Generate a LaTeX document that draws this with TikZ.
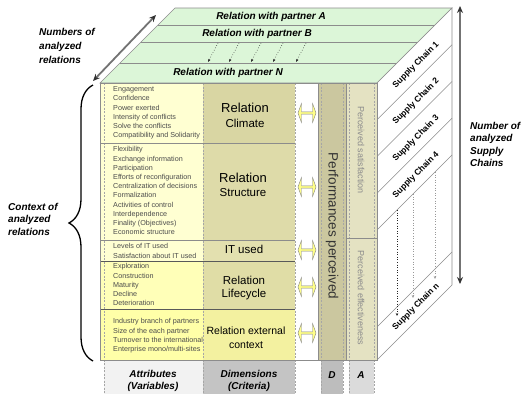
\documentclass[tikz,border=0pt]{standalone}
\usepackage{fontspec}
\setmainfont{Liberation Sans}
\usetikzlibrary{arrows,arrows.meta,shapes.arrows,decorations.pathreplacing}

\definecolor{topgreen}{HTML}{DCF6D8}
\definecolor{attrpale}{HTML}{FFFFD2}
\definecolor{attrlife}{HTML}{FFFFB8}
\definecolor{attrext}{HTML}{FFFFA8}
\definecolor{dimclim}{HTML}{D9D6A3}
\definecolor{dimstru}{HTML}{DEDBA9}
\definecolor{dimit}{HTML}{E3E0AF}
\definecolor{dimlife}{HTML}{E0DDA6}
\definecolor{dimext}{HTML}{F3F1A0}
\definecolor{perfD}{HTML}{CBC79F}
\definecolor{perfA}{HTML}{E4E2C2}
\definecolor{arrowyel}{HTML}{FFFF88}

\begin{document}
\begin{tikzpicture}[x=1pt,y=-1pt,>=stealth',auto,node distance=15pt]
 \tikzstyle{band}=[font=\fontsize{10}{12}\selectfont\bfseries\itshape]
 \tikzstyle{items}=[anchor=north west,align=left,inner sep=0pt,text=black!70,font=\fontsize{7.2}{9.2}\selectfont]
 \tikzstyle{dimbig}=[inner sep=0pt,font=\fontsize{13}{15}\selectfont]
 \tikzstyle{dimsmall}=[inner sep=0pt,font=\fontsize{11.5}{13}\selectfont]
 \tikzstyle{link}=[double arrow,draw=black!50,fill=arrowyel,minimum width=19pt,minimum height=18pt,double arrow head extend=1.5pt,double arrow tip angle=140,inner sep=0pt]
 \tikzstyle{sidetext}=[align=left,anchor=north west,inner sep=0pt,font=\fontsize{10}{12.5}\selectfont\bfseries\itshape]
 \tikzstyle{chainname}=[rotate=45,inner sep=0pt,font=\fontsize{8.5}{10}\selectfont\bfseries]
 \tikzstyle{rim}=[draw=black!45,line width=0.6pt]
 \tikzstyle{dashln}=[draw=black!35,dash pattern=on 2pt off 1.5pt,line width=0.5pt]
 \tikzstyle{foot}=[align=center,inner sep=0pt,font=\fontsize{10}{12.5}\selectfont\bfseries\itshape]
 \tikzstyle{vtext}=[rotate=-90,inner sep=0pt,text=black!45,font=\fontsize{9}{11}\selectfont]
 \tikzstyle{dots}=[dotted,line width=0.6pt,-{Stealth[length=3pt,width=2.5pt]}]
 \tikzstyle{bigarrow}=[line width=1.8pt,black!55,{Stealth[length=7pt,width=6pt,black!80]}-{Stealth[length=7pt,width=6pt,black!80]}]

\useasboundingbox (0,0) rectangle (525,394);
\fill[white] (0,0) rectangle (525,394);

\fill[black!5] (104,360) rectangle (203,394);
\fill[black!23] (203,360) rectangle (295,394);
\fill[black!26] (321,360) rectangle (343,394);
\fill[black!14] (349,360) rectangle (374,394);

\filldraw[fill=topgreen,rim] (100,83) -- (377,83) -- (452,8) -- (175,8) -- cycle;
\draw[rim] (158,25) -- (435,25) (141,42) -- (418,42) (120,63) -- (397,63);

\filldraw[fill=white,rim] (377,83) -- (452,8) -- (452,285) -- (377,360) -- cycle;
\draw[rim] (377,119.75) -- (452,44.75) (377,156.5) -- (452,81.5)
           (377,193.25) -- (452,118.25) (377,230) -- (452,155)
           (377,327) -- (452,252);

\fill[attrpale] (100,83) rectangle (203,261);
\fill[attrlife] (100,261) rectangle (203,309);
\fill[attrext] (100,309) rectangle (203,360);
\fill[dimclim] (203,83) rectangle (295,143);
\fill[dimstru] (203,143) rectangle (295,240);
\fill[dimit] (203,240) rectangle (295,261);
\fill[dimlife] (203,261) rectangle (295,309);
\fill[dimext] (203,309) rectangle (295,360);
\fill[perfD] (318,83) rectangle (346,360);
\fill[perfA] (346,83) rectangle (377,360);

\draw[dashln] (104,83) -- (104,394) (203,83) -- (203,394) (295,83) -- (295,394)
              (321,83) -- (321,394) (343,83) -- (343,394) (349,83) -- (349,394) (374,83) -- (374,394);
\draw[rim] (100,143) -- (295,143) (100,240) -- (295,240);
\draw[rim,black!65,line width=0.9pt] (100,261) -- (295,261) (100,309) -- (295,309);
\draw[rim] (346,238) -- (377,238);
\draw[rim] (318,83) -- (318,360) (346,83) -- (346,360);
\draw[rim] (100,83) rectangle (377,360);

\node[band] (bandA) at (271,16.5) {Relation with partner A};
\node[band] (bandB) at (257,33.5) {Relation with partner B};
\node[band] (bandN) at (228,73)   {Relation with partner N};

\coordinate (t1) at (218,43); \coordinate (b1) at (208,62);
\coordinate (t2) at (239,43); \coordinate (b2) at (229,62);
\coordinate (t3) at (261,43); \coordinate (b3) at (251,62);
\coordinate (t4) at (283,43); \coordinate (b4) at (273,62);
\coordinate (t5) at (306,43); \coordinate (b5) at (296,62);
\path[dots,black!80] (t1) edge (b1) (t2) edge (b2) (t3) edge (b3) (t4) edge (b4) (t5) edge (b5);

\node[chainname] (sc1) at (416,65)    {Supply Chain 1};
\node[chainname] (sc2) at (416,101.5) {Supply Chain 2};
\node[chainname] (sc3) at (416,138.5) {Supply Chain 3};
\node[chainname] (sc4) at (416,175)   {Supply Chain 4};
\node[chainname] (scn) at (416,307)   {Supply Chain n};

\coordinate (u1) at (397,210); \coordinate (v1) at (397,316);
\coordinate (u2) at (413,194); \coordinate (v2) at (413,298);
\coordinate (u3) at (435,172); \coordinate (v3) at (435,279);
\path[dots] (u1) edge[black!85] (v1) (u2) edge[black!40] (v2) (u3) edge[black!40] (v3);

\node[items] (climA) at (113,86.5) {Engagement\\Confidence\\Power exerted\\Intensity of conflicts\\Solve the conflicts\\Compatibility and Solidarity};
\node[items] (struA) at (113,146.5) {Flexibility\\Exchange information\\Participation\\Efforts of reconfiguration\\Centralization of decisions\\Formalization\\Activities of control\\Interdependence\\Finality (Objectives)\\Economic structure};
\node[items] (itA) at (113,243.5) {Levels of IT used\\Satisfaction about IT used};
\node[items] (lifeA) at (113,263.5) {Exploration\\Construction\\Maturity\\Decline\\Deterioration};
\node[items] (extA) at (113,318.5) {Industry branch of partners\\Size of the each partner\\Turnover to the international\\Enterprise mono/multi-sites};

\node[dimbig]   (climD) at (245,108) {Relation};
\node[dimsmall] (climE) [below of=climD] {Climate};
\node[dimbig]   (struD) at (243,178) {Relation};
\node[dimsmall] (struE) [below of=struD] {Structure};
\node[dimsmall] (itD) at (244,249) {IT used};
\node[dimsmall] (lifeD) at (244,280) {Relation};
\node[dimsmall] (lifeE) [below of=lifeD] {Lifecycle};
\node[inner sep=0pt,font=\fontsize{10.5}{12}\selectfont] (extD) at (246,331) {Relation external};
\node[inner sep=0pt,font=\fontsize{10.5}{12}\selectfont] (extE) at (246,345) {context};

\node[link] (lk1) at (307,113) {};
\node[link] (lk2) at (307,187) {};
\node[link] (lk3) at (307,250) {};
\node[link] (lk4) at (307,287) {};
\node[link] (lk5) at (307,333) {};

\node[rotate=-90,inner sep=0pt,text=black!80,font=\fontsize{13.5}{15}\selectfont] (perf) at (332,226) {Performances perceived};
\node[vtext] (satis) at (361,150) {Perceived satisfaction};
\node[vtext] (effec) at (361,298) {Perceived effectiveness};

\node[foot] (attrF) at (153,381) {Attributes\\(Variables)};
\node[foot] (dimF)  at (249,381) {Dimensions\\(Criteria)};
\node[foot] (dF)    at (332,375) {D};
\node[foot] (aF)    at (361,375) {A};

\node[sidetext,font=\fontsize{10}{14}\selectfont\bfseries\itshape] (nrel) at (39,28) {Numbers of\\analyzed\\relations};
\node[sidetext] (ctx) at (8,203) {Context of\\analyzed\\relations};
\node[sidetext] (nsc) at (470,122) {Number of\\analyzed\\Supply\\Chains};

\coordinate (relT) at (156,15); \coordinate (relB) at (93,81);
\draw[bigarrow] (relB) -- (relT);
\coordinate (scT) at (460,6); \coordinate (scB) at (460,284);
\draw[bigarrow] (scT) -- (scB);

\draw[decorate,decoration={brace,amplitude=24pt},line width=1.3pt] (93,361) -- (93,85);
\end{tikzpicture}
\end{document}
